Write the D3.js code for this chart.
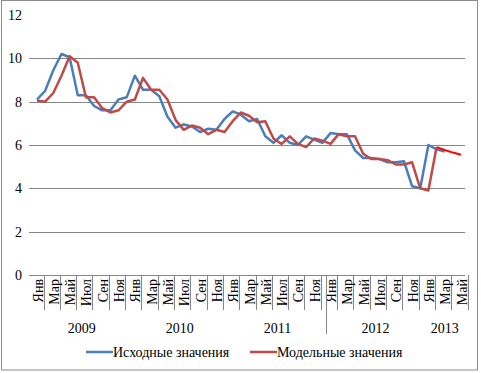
<!DOCTYPE html>
<html>
<head>
<meta charset="utf-8">
<script src="https://cdn.jsdelivr.net/npm/d3@7"></script>
<style>
  body { margin: 0; background: #fff; }
  text { font-family: "Liberation Serif", "Times New Roman", serif; fill: #000; }
</style>
</head>
<body>
<script>
const WIDTH = 481
const HEIGHT = 373

// месяцы: янв 2009 - май 2013
const monthNames = ["Янв", "Фев", "Мар", "Апр", "Май", "Июн", "Июл", "Авг", "Сен", "Окт", "Ноя", "Дек"]
const years = [2009, 2010, 2011, 2012, 2013]
const nMonths = 53

// исходные значения (янв 2009 - мар 2013)
const original = [8.1, 8.5, 9.45, 10.2, 10.05, 8.3, 8.3, 7.8, 7.6, 7.6, 8.1, 8.2,
  9.2, 8.55, 8.55, 8.25, 7.3, 6.8, 6.95, 6.85, 6.6, 6.75, 6.7, 7.2,
  7.55, 7.4, 7.1, 7.2, 6.4, 6.1, 6.45, 6.1, 6.0, 6.4, 6.25, 6.1,
  6.55, 6.5, 6.5, 5.75, 5.4, 5.4, 5.35, 5.2, 5.2, 5.25, 4.1, 4.0,
  6.0, 5.8, 5.7]

// модельные значения (янв 2009 - фев 2013)
const model = [8.05, 8.0, 8.4, 9.2, 10.1, 9.8, 8.2, 8.2, 7.7, 7.5, 7.6, 8.0,
  8.1, 9.1, 8.55, 8.55, 8.1, 7.15, 6.7, 6.9, 6.8, 6.5, 6.7, 6.6,
  7.1, 7.5, 7.35, 7.05, 7.1, 6.3, 6.05, 6.4, 6.05, 5.9, 6.3, 6.2,
  6.05, 6.5, 6.4, 6.4, 5.6, 5.35, 5.35, 5.3, 5.1, 5.1, 5.2, 4.0,
  3.9, 5.9]

// прогноз (фев 2013 - май 2013)
const forecast = [5.9, 5.77, 5.65, 5.55]
const forecastStart = 49

const yTicks = [0, 2, 4, 6, 8, 10, 12]

const svg = d3.select("body")
  .append("svg")
  .attr("width", WIDTH)
  .attr("height", HEIGHT)

// рамка
svg.append("rect")
  .attr("x", 1.5).attr("y", 0.5)
  .attr("width", 476).attr("height", 369.5)
  .attr("fill", "none")
  .attr("stroke", "#8c8c8c")
  .attr("stroke-width", 1)

const x = d3.scalePoint()
  .domain(d3.range(nMonths))
  .range([37, 461])

const y = d3.scaleLinear()
  .domain([0, 12])
  .range([275, 15])

// сетка
svg.append("g")
  .selectAll("line")
  .data(yTicks.filter(d => d < 12))
  .enter()
  .append("line")
  .attr("x1", 29).attr("x2", 465)
  .attr("y1", d => Math.round(y(d)) + 0.5)
  .attr("y2", d => Math.round(y(d)) + 0.5)
  .attr("stroke", "#868686")
  .attr("stroke-width", 1)

// подписи оси Y
svg.append("g")
  .selectAll("text")
  .data(yTicks)
  .enter()
  .append("text")
  .attr("x", 22)
  .attr("y", d => y(d) + 5)
  .attr("text-anchor", "end")
  .attr("font-size", 14)
  .text(d => d)

// подписи месяцев (каждый второй)
const labelled = d3.range(0, nMonths, 2)

svg.append("g")
  .selectAll("line")
  .data(labelled)
  .enter()
  .append("line")
  .attr("x1", d => Math.round(x(d) + 6.5) + 0.5)
  .attr("x2", d => Math.round(x(d) + 6.5) + 0.5)
  .attr("y1", 275).attr("y2", 310)
  .attr("stroke", "#868686")

svg.append("g")
  .selectAll("text")
  .data(labelled)
  .enter()
  .append("text")
  .attr("transform", d => `translate(${x(d) + 5.5},279) rotate(-90)`)
  .attr("text-anchor", "end")
  .attr("font-size", 14)
  .text(d => monthNames[d % 12])

// разделитель 2011/2012
svg.append("line")
  .attr("x1", Math.round((x(35) + x(36)) / 2) + 0.5)
  .attr("x2", Math.round((x(35) + x(36)) / 2) + 0.5)
  .attr("y1", 275).attr("y2", 334)
  .attr("stroke", "#868686")

// годы
svg.append("g")
  .selectAll("text")
  .data(years)
  .enter()
  .append("text")
  .attr("x", (d, i) => (x(i * 12) + x(Math.min(i * 12 + 11, nMonths - 1))) / 2)
  .attr("y", 333)
  .attr("text-anchor", "middle")
  .attr("font-size", 14)
  .text(d => d)

// линии
const line = d3.line()
  .x(d => x(d[0]))
  .y(d => y(d[1]))

svg.append("path")
  .datum(original.map((v, i) => [i, v]))
  .attr("d", line)
  .attr("fill", "none")
  .attr("stroke", "#4a7ebb")
  .attr("stroke-width", 2.5)
  .attr("stroke-linejoin", "round")

svg.append("path")
  .datum(model.map((v, i) => [i, v]))
  .attr("d", line)
  .attr("fill", "none")
  .attr("stroke", "#be4b48")
  .attr("stroke-width", 2.5)
  .attr("stroke-linejoin", "round")

svg.append("path")
  .datum(forecast.map((v, i) => [forecastStart + i, v]))
  .attr("d", line)
  .attr("fill", "none")
  .attr("stroke", "#ff0000")
  .attr("stroke-width", 2)
  .attr("stroke-linejoin", "round")

// легенда
const legend = [
  { name: "Исходные значения", color: "#4a7ebb", x: 86 },
  { name: "Модельные значения", color: "#be4b48", x: 250 }
]

const lg = svg.append("g")
  .selectAll("g")
  .data(legend)
  .enter()
  .append("g")

lg.append("line")
  .attr("x1", d => d.x).attr("x2", d => d.x + 27)
  .attr("y1", 352).attr("y2", 352)
  .attr("stroke", d => d.color)
  .attr("stroke-width", 2.5)

lg.append("text")
  .attr("x", d => d.x + 27)
  .attr("y", 357)
  .attr("font-size", 14)
  .text(d => d.name)
</script>
</body>
</html>
